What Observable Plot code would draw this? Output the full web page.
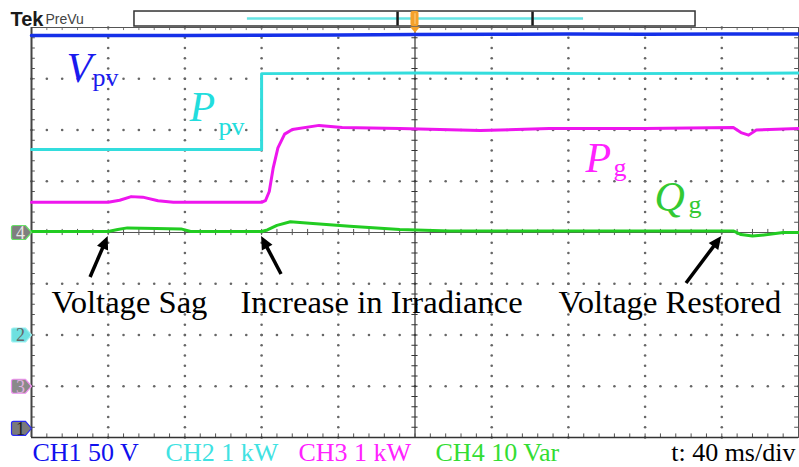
<!DOCTYPE html>
<html><head><meta charset="utf-8">
<script src="https://cdn.jsdelivr.net/npm/d3@7"></script>
<script src="https://cdn.jsdelivr.net/npm/@observablehq/plot@0.6"></script>
<style>
html,body{margin:0;padding:0;background:#fff;}
#chart{width:799px;height:467px;overflow:hidden;}
</style></head><body><div id="chart"></div>
<script>
// ---------- channel settings ----------
const chanNames = ["CH1", "CH2", "CH3", "CH4"];
const chanPerDiv = [50, 1, 1, 10];
const chanUnits = ["V", "kW", "kW", "Var"];
const chanOffsets = [-3.82, -2, -3, 0];   // ground marker position (div)
const timePerDiv = 40;                      // ms/div

// ---------- traces (time ms, value in channel units) ----------
const vpvT = [-200, -160, -120, -80, -40, 0, 40, 80, 120, 160, 200];
const vpvV = [383.1, 383.3, 383.2, 383.4, 383.8, 384.1, 384.5, 384.6, 384.4, 384.6, 384.7];

const ppvT = [-200, -120, -80, -80, 0, 100, 200];
const ppvV = [3.62, 3.62, 3.62, 5.10, 5.11, 5.10, 5.11];

const pgT = [-200, -160, -154, -148, -142, -134, -126, -80, -78, -76, -74, -71.5, -68, -64, -50, -38, -8, 34, 70, 120, 166, 170, 174, 178, 200];
const pgV = [3.59, 3.59, 3.63, 3.70, 3.69, 3.62, 3.59, 3.59, 3.62, 3.80, 4.25, 4.65, 4.92, 5.01, 5.09, 5.05, 5.03, 4.99, 5.03, 5.03, 5.05, 4.95, 4.90, 5.00, 5.03];

const qgT = [-200, -160, -155, -150, -135, -122, -117, -80, -77, -72, -65, -55, -34, -8, 18, 60, 150, 166, 170, 176, 184, 192, 200];
const qgV = [0.2, 0.2, 0.6, 0.9, 0.8, 0.7, 0.2, 0.2, 0.5, 1.4, 2.1, 1.8, 1.2, 0.6, 0.3, 0.3, 0.3, 0.3, -0.4, -0.7, -0.4, 0.0, 0.0];

// ---------- labels ----------
const traceSymbols = ["V", "P", "P", "Q"];
const traceSubs = ["pv", "pv", "g", "g"];
const eventNames = ["Voltage Sag", "Increase in Irradiance", "Voltage Restored"];
const eventTimes = [-160, -80, 160];

// ---------- styles & layout ----------
const traceColors = ["#1530e8", "#33dddd", "#ee16ee", "#22cc22"];
const labelColors = ["#1a1aee", "#22dddd", "#ff22ff", "#33c933"];
const footColors = ["#1010ee", "#40e2e2", "#ff22ff", "#33dd33"];
const serif = "Liberation Serif";
const sans = "Liberation Sans";

const symPosT = [-181.7, -117.6, 88.9, 124.9], symPosY = [2.946, 2.166, 1.190, 0.429];
const subPosT = [-168.2, -102.5, 103.5, 142.6], subPosY = [2.849, 1.893, 1.093, 0.390];
const eventLabelT = [-189.6, -91.0, 74.8], eventLabelY = -1.58;
const arrowTailT = [-169.2, -69.6, 141.6], arrowTailY = [-0.878, -0.82, -0.995], arrowTipY = -0.08;
const footT = [-199.5, -130.1, -60.8, 10.7], footY = -4.468;
const tagY = [-3.82, -2, -3, 0];

// ---------- build data ----------
const toDiv = (vals, ch) => vals.map(v => v / chanPerDiv[ch] + chanOffsets[ch]);
function series(T, V, ch) { const d = toDiv(V, ch); return T.map((t, i) => ({t, d: d[i]})); }
const traces = [series(vpvT, vpvV, 0), series(ppvT, ppvV, 1), series(pgT, pgV, 2), series(qgT, qgV, 3)];

// grid
const majorT = [-160, -120, -80, -40, 40, 80, 120, 160];
const majorY = [-3, -2, -1, 1, 2, 3];
const minorT = d3.range(-200, 200.1, timePerDiv / 5);
const minorY = d3.range(-4, 4.01, 0.2).map(v => +v.toFixed(2));
const gridDots = [];
for (const t of majorT) for (const y of minorY) gridDots.push({t, y});
for (const y of majorY) for (const t of minorT) gridDots.push({t, y});

const tagSymbol = {
  draw(ctx) {
    ctx.moveTo(0, 0); ctx.lineTo(-6, -7); ctx.lineTo(-18, -7);
    ctx.quadraticCurveTo(-20, -7, -20, -5); ctx.lineTo(-20, 5);
    ctx.quadraticCurveTo(-20, 7, -18, 7); ctx.lineTo(-6, 7); ctx.closePath();
  }
};
const triDown = { draw(ctx) { ctx.moveTo(-5, -3); ctx.lineTo(5, -3); ctx.lineTo(0, 3); ctx.closePath(); } };
const tagFill = ["#7a7a7a", "#6ee0e0", "#8a8a8a", "#7f7f7f"];
const tagStroke = ["#2a2af0", "#9af0f0", "#f090f0", "#66e066"];
const tagText = ["#222", "#666", "#e0b0e0", "#e8e8e8"];
const tags = [0, 1, 2, 3].map(i => ({i, y: tagY[i], n: String(i + 1)}));

function arrows(index, scales) {
  const g = d3.create("svg:g");
  eventTimes.forEach((t, i) => {
    const x1 = scales.x(arrowTailT[i]), y1 = scales.y(arrowTailY[i]);
    const x2 = scales.x(t), y2 = scales.y(arrowTipY);
    const L = Math.hypot(x2 - x1, y2 - y1), ux = (x2 - x1) / L, uy = (y2 - y1) / L;
    const hl = 13, hw = 6;
    g.append("line").attr("x1", x1).attr("y1", y1).attr("x2", x2 - ux * (hl - 2)).attr("y2", y2 - uy * (hl - 2))
      .attr("stroke", "#000").attr("stroke-width", 3.5);
    const bx = x2 - ux * hl, by = y2 - uy * hl;
    g.append("path").attr("d", `M${x2},${y2}L${bx - uy * hw},${by + ux * hw}L${bx + uy * hw},${by - ux * hw}Z`).attr("fill", "#000");
  });
  return g.node();
}

const chart = Plot.plot({
  width: 799, height: 467,
  marginLeft: 31, marginRight: 1, marginTop: 27, marginBottom: 30,
  x: {domain: [-200, 200], axis: null},
  y: {domain: [-4, 4], axis: null},
  style: {background: "#fff", overflow: "visible"},
  marks: [
    // grid dots
    Plot.dot(gridDots, {x: "t", y: "y", r: 1.3, fill: "#666"}),
    // center lines + ticks
    Plot.ruleX([0], {stroke: "#333", strokeWidth: 1.2}),
    Plot.ruleY([0], {stroke: "#555", strokeWidth: 1.2}),
    Plot.ruleY(minorY, {y: d => d, x1: -1.6, x2: 1.6, stroke: "#333"}),
    Plot.ruleX(minorT, {x: d => d, y1: -0.06, y2: 0.06, stroke: "#555"}),
    // border ticks
    Plot.ruleY(minorY, {y: d => d, x1: -200, x2: -198, stroke: "#555"}),
    Plot.ruleY(minorY, {y: d => d, x1: 198, x2: 200, stroke: "#555"}),
    Plot.ruleX(minorT, {x: d => d, y1: -4, y2: -3.93, stroke: "#555"}),
    Plot.ruleX(minorT, {x: d => d, y1: 3.94, y2: 4, stroke: "#777"}),
    Plot.frame({stroke: "#555", strokeWidth: 1}),
    Plot.ruleX([-200], {stroke: "#444", strokeWidth: 2}),
    Plot.ruleY([-4], {stroke: "#333", strokeWidth: 1.5}),
    // traces
    ...traces.map((tr, i) => Plot.line(tr, {x: "t", y: "d", stroke: traceColors[i], strokeWidth: i === 0 ? 3.5 : 3, curve: "linear"})),
    // channel tags
    Plot.dot(tags, {x: -200, y: "y", symbol: tagSymbol, fill: d => tagFill[d.i], stroke: d => tagStroke[d.i], strokeWidth: 1.2}),
    Plot.text(tags, {x: -200, y: "y", text: "n", dx: -11, dy: 0.5, fill: d => tagText[d.i], fontSize: 18, fontFamily: serif}),
    // trace labels
    Plot.text(traceSymbols, {x: (d, i) => symPosT[i], y: (d, i) => symPosY[i], text: d => d, fill: (d, i) => labelColors[i],
      fontSize: 42, fontStyle: "italic", fontFamily: serif, textAnchor: "start", lineAnchor: "bottom"}),
    Plot.text(traceSubs, {x: (d, i) => subPosT[i], y: (d, i) => subPosY[i], text: d => d, fill: (d, i) => labelColors[i],
      fontSize: 26, fontFamily: serif, textAnchor: "start", lineAnchor: "bottom"}),
    // event annotations
    Plot.text(eventNames, {x: (d, i) => eventLabelT[i], y: eventLabelY, text: d => d, fill: "#000",
      fontSize: 32.6, fontFamily: serif, textAnchor: "start", lineAnchor: "bottom"}),
    arrows,
    // footer
    Plot.text(chanNames, {x: (d, i) => footT[i], y: footY, text: (d, i) => `${d} ${chanPerDiv[i]} ${chanUnits[i]}`,
      fill: (d, i) => footColors[i], fontSize: 26, fontFamily: serif, textAnchor: "start", lineAnchor: "bottom"}),
    Plot.text([`t: ${timePerDiv} ms/div`], {x: 198.4, y: footY, text: d => d, fill: "#000",
      fontSize: 26, fontFamily: serif, textAnchor: "end", lineAnchor: "bottom"}),
    // header
    Plot.text(["Tek"], {x: -211, y: 4.039, text: d => d, fill: "#1a1a1a", fontSize: 20, fontWeight: "bold",
      fontFamily: sans, textAnchor: "start", lineAnchor: "bottom"}),
    Plot.text(["PreVu"], {x: -192.7, y: 4.059, text: d => d, fill: "#444", fontSize: 14,
      fontFamily: sans, textAnchor: "start", lineAnchor: "bottom"}),
    Plot.rect([0], {x1: -146.3, x2: 146.3, y1: 4.0195, y2: 4.312, fill: "#fff", stroke: "#333", strokeWidth: 1.5}),
    Plot.ruleY([4.176], {x1: -87.4, x2: 87.9, stroke: "#66e4e4", strokeWidth: 2.5}),
    Plot.ruleX([-9.1, 61.3], {y1: 4.03, y2: 4.30, stroke: "#1a1a1a", strokeWidth: 2.5}),
    Plot.rect([0], {x1: -2.1, x2: 2.1, y1: 4.02, y2: 4.31, fill: "#f5a12a", rx: 2}),
    Plot.ruleX([0], {y1: 4.06, y2: 4.27, stroke: "#fbd08a", strokeWidth: 1}),
    Plot.dot([0], {x: 0, y: 3.955, symbol: triDown, fill: "#f5a12a", stroke: null})
  ]
});
document.getElementById("chart").appendChild(chart);
</script></body></html>
